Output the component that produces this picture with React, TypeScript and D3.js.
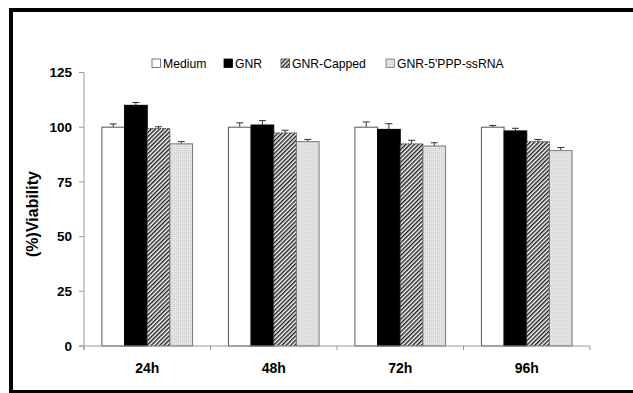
import React from 'react';
import { scaleBand, scaleLinear } from 'd3';

// timepoints and series
const categories = ['24h', '48h', '72h', '96h'];
const seriesNames = ['Medium', 'GNR', 'GNR-Capped', "GNR-5'PPP-ssRNA"];

const medium = [100, 100, 100, 100];
const mediumErr = [1.5, 2, 2.4, 0.8];
const gnr = [110, 101, 99, 98.3];
const gnrErr = [1.3, 2, 2.6, 1.2];
const capped = [99.4, 97.4, 92.4, 93.4];
const cappedErr = [0.8, 1.2, 1.6, 1];
const ssrna = [92.4, 93.4, 91.4, 89.3];
const ssrnaErr = [1, 1, 1.5, 1.4];

const yTicks = [0, 25, 50, 75, 100, 125];

const values = [medium, gnr, capped, ssrna];
const errors = [mediumErr, gnrErr, cappedErr, ssrnaErr];

const fills = ['#ffffff', '#000000', 'url(#hatch)', 'url(#dots)'];
const strokes = ['#555', '#000', '#444', '#777'];
const dashes = ['none', 'none', '1.5,1', 'none'];

const legendX = [152, 224, 281, 386];

const font = 'Arial, "Liberation Sans", sans-serif';

export default function App() {
	const width = 633;
	const height = 393;
	const left = 84, right = 590, top = 72.5, bottom = 346;

	const x = scaleBand().domain(categories).range([left, right]);
	const x1 = scaleBand().domain(seriesNames).range([0, x.bandwidth()]).paddingOuter(0.79);
	const y = scaleLinear().domain([0, 125]).range([bottom, top]);

	const bounds = categories.map((c) => x(c) as number).concat([right]);

	return (
		<svg width={width} height={height} style={{ position: 'absolute', left: 0, top: 0, background: '#fff', overflow: 'hidden' }}
			fontFamily={font}>
			<defs>
				<pattern id="hatch" width="3" height="3" patternUnits="userSpaceOnUse" patternTransform="rotate(45)">
					<rect width="3" height="3" fill="#fff"/>
					<line x1="0.75" y1="0" x2="0.75" y2="3" stroke="#222" strokeWidth="1.5"/>
				</pattern>
				<pattern id="dots" width="2" height="2" patternUnits="userSpaceOnUse">
					<rect width="2" height="2" fill="#e4e4e4"/>
					<rect width="1" height="1" fill="#cfcfcf"/>
				</pattern>
			</defs>

			{/* frame, right side runs off the picture */}
			<path d={`M${width + 20},10 H11 V392 H${width + 20}`} fill="none" stroke="#000" strokeWidth={4}/>

			{/* bars */}
			{categories.map((c, i) => (
				<g key={c} transform={`translate(${x(c)},0)`}>
					{seriesNames.map((s, k) => {
						const v = values[k][i];
						const e = errors[k][i];
						const bx = x1(s) as number;
						const cx = bx + x1.bandwidth() / 2;
						return (
							<g key={s}>
								<line x1={cx} x2={cx} y1={y(v)} y2={y(v + e)} stroke="#333" strokeWidth={1}/>
								<line x1={cx - 3.5} x2={cx + 3.5} y1={y(v + e)} y2={y(v + e)} stroke="#333" strokeWidth={1}/>
								<rect x={bx} y={y(v)} width={x1.bandwidth()} height={bottom - y(v)}
									fill={fills[k]} stroke={strokes[k]} strokeWidth={1} strokeDasharray={dashes[k]}/>
							</g>
						);
					})}
				</g>
			))}

			{/* y axis */}
			<line x1={left} x2={left} y1={top} y2={bottom + 4} stroke="#999"/>
			{yTicks.map((t) => (
				<g key={t}>
					<line x1={left - 5} x2={left} y1={y(t)} y2={y(t)} stroke="#999"/>
					<text x={72} y={y(t)} dy="0.36em" textAnchor="end" fontSize={13.5} fontWeight="bold">{t}</text>
				</g>
			))}

			{/* x axis */}
			<line x1={left - 5} x2={right} y1={bottom} y2={bottom} stroke="#999"/>
			{bounds.map((b, i) => (
				<line key={i} x1={b} x2={b} y1={bottom} y2={bottom + 4} stroke="#999"/>
			))}
			{categories.map((c) => (
				<text key={c} x={(x(c) as number) + x.bandwidth() / 2} y={373} textAnchor="middle"
					fontSize={14} fontWeight="bold">{c}</text>
			))}

			<text transform="translate(32,214) rotate(-90)" textAnchor="middle" dy="0.36em"
				fontSize={16} fontWeight="bold">(%)Viability</text>

			{/* legend */}
			{seriesNames.map((s, k) => (
				<g key={s}>
					<rect x={legendX[k]} y={59} width={8.5} height={8.5} fill={fills[k]} stroke={strokes[k]} strokeWidth={0.8}/>
					<text x={legendX[k] + 11} y={68} fontSize={12.2}>{s}</text>
				</g>
			))}
		</svg>
	);
}
